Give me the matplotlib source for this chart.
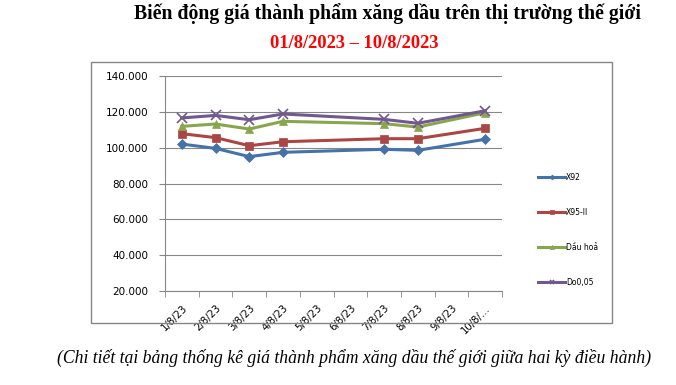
import numpy as np
import matplotlib.pyplot as plt
from matplotlib.patches import Rectangle

# data (thousand VND/litre)
dates = ["1/8/23", "2/8/23", "3/8/23", "4/8/23", "5/8/23",
         "6/8/23", "7/8/23", "8/8/23", "9/8/23", "10/8/…"]
have = [0, 1, 2, 3, 6, 7, 9]   # days with a reading
x92 = [102.0, 99.6, 95.0, 97.4, 99.1, 98.5, 104.7]
x95 = [107.8, 105.6, 101.1, 103.3, 105.0, 105.0, 110.8]
dau_hoa = [111.9, 113.2, 110.4, 114.7, 113.4, 111.5, 119.5]
do005 = [116.6, 118.0, 115.6, 118.8, 115.8, 113.6, 120.6]

series = [
    ("X92", x92, "#4572A7", "D", 5),
    ("X95-II", x95, "#AA4643", "s", 6),
    ("Dầu hoả", dau_hoa, "#89A54E", "^", 6),
    ("Do0,05", do005, "#71588F", "x", 7),
]

fig = plt.figure(figsize=(6.76, 3.85), dpi=100)
fig.patch.set_facecolor("white")

# outer chart frame
fig.patches.append(Rectangle((91/676, 1-323/385), (612-91)/676, (323-62)/385,
                             transform=fig.transFigure, fill=False,
                             edgecolor="#868686", linewidth=1.0))

ax = fig.add_axes([165/676, 1-291/385, 337/676, 215/385])
for name, vals, col, mk, ms in series:
    ax.plot(have, vals, color=col, marker=mk, markersize=ms, linewidth=2.2,
            markeredgewidth=1.2 if mk == "x" else 0.5, markeredgecolor=col,
            label=name)

ax.set_xlim(-0.5, 9.5)
ax.set_ylim(20, 140)
ax.set_yticks(np.arange(20, 141, 20))
ax.set_yticklabels([f"{v}.000" for v in range(20, 141, 20)], fontsize=7.5,
                   family="DejaVu Sans")
ax.set_xticks(range(10))
ax.set_xticklabels(dates, rotation=45, ha="right", rotation_mode="anchor",
                   fontsize=7.3, family="DejaVu Sans")
ax.set_xticks(np.arange(-0.5, 10, 1), minor=True)
ax.tick_params(axis="x", which="major", length=0, pad=8.5)
ax.tick_params(axis="x", which="minor", length=4, color="#868686")
ax.tick_params(axis="y", length=4, color="#868686", pad=8)
ax.grid(axis="y", color="#868686", linewidth=0.8)
ax.set_axisbelow(True)
for s in ["top", "right"]:
    ax.spines[s].set_visible(False)
for s in ["left", "bottom"]:
    ax.spines[s].set_color("#868686")

fig.legend(loc="center left", bbox_to_anchor=(531/676, 1-230/385),
           frameon=False, handlelength=3.6, handletextpad=0.1,
           labelspacing=3.4, markerscale=0.5,
           prop={"family": "DejaVu Sans", "size": 5.5})

fig.text(0.573, 1-14/385, "Biến động giá thành phẩm xăng dầu trên thị trường thế giới",
         ha="center", va="center", fontsize=14.2, fontweight="bold",
         family="Liberation Serif")
fig.text(0.524, 1-43/385, "01/8/2023 – 10/8/2023", ha="center", va="center",
         fontsize=13.3, fontweight="bold", color="#FF0000",
         family="Liberation Serif")
fig.text(0.524, 1-358/385,
         "(Chi tiết tại bảng thống kê giá thành phẩm xăng dầu thế giới giữa hai kỳ điều hành)",
         ha="center", va="center", fontsize=12.7, style="italic",
         family="Liberation Serif")

fig.savefig("out.png", dpi=100)
